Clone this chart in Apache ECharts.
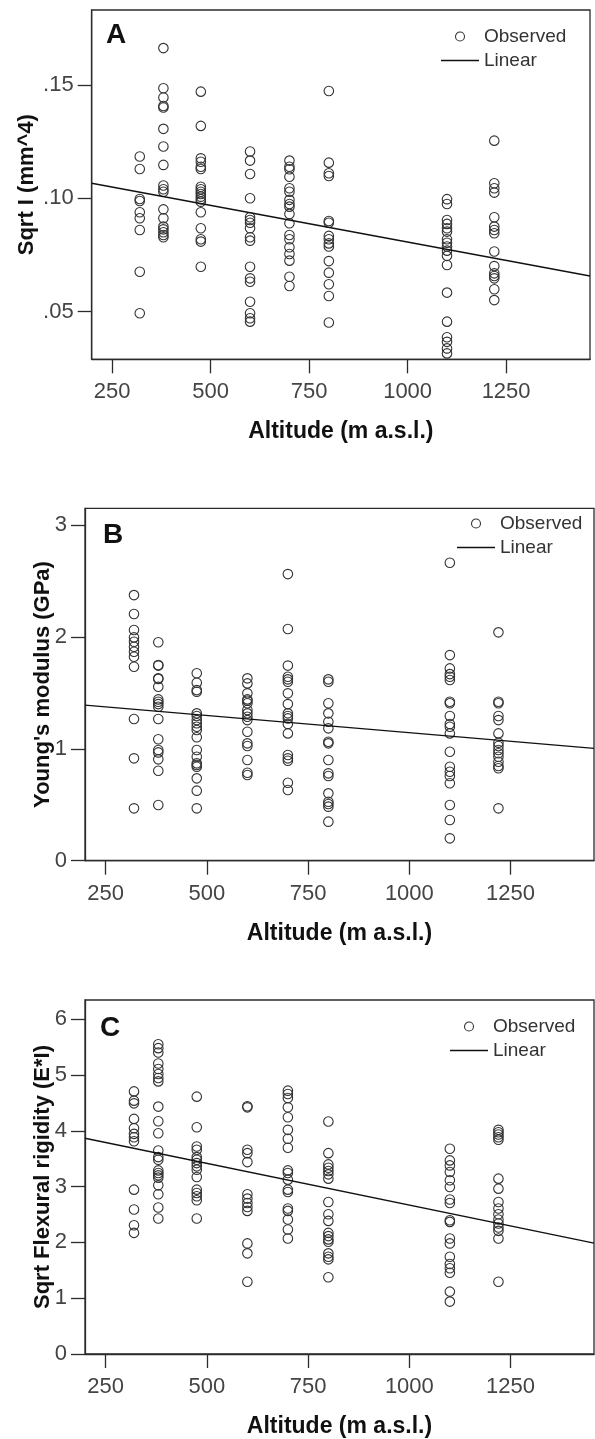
<!DOCTYPE html>
<html>
<head>
<meta charset="utf-8">
<title>Altitude scatter plots</title>
<script src="https://cdn.jsdelivr.net/npm/echarts@6/dist/echarts.min.js"></script>
<style>
  html, body { margin: 0; padding: 0; background: #fff; }
  #chart { width: 595px; height: 1439px; }
</style>
</head>
<body>
<div id="chart"></div>
<script>
// altitude of each sampling site (m a.s.l.)
const altitudes = [320, 380, 475, 600, 700, 800, 1100, 1220]

// panel A: Sqrt I (mm^4), one list per altitude
const sqrtI = [
  [0.1184, 0.1129, 0.0997, 0.0988, 0.0938, 0.0912, 0.0860, 0.0676, 0.0493],
  [0.1662, 0.1485, 0.1444, 0.1407, 0.1400, 0.1306, 0.1228, 0.1147, 0.1056, 0.1040, 0.1029, 0.0951, 0.0912, 0.0875, 0.0863, 0.0850, 0.0838, 0.0828],
  [0.1470, 0.1319, 0.1176, 0.1161, 0.1139, 0.1129, 0.1051, 0.1040, 0.1029, 0.1019, 0.1007, 0.0996, 0.0985, 0.0938, 0.0868, 0.0819, 0.0809, 0.0698],
  [0.1206, 0.1166, 0.1107, 0.1000, 0.0916, 0.0904, 0.0892, 0.0868, 0.0828, 0.0813, 0.0698, 0.0647, 0.0632, 0.0544, 0.0493, 0.0471, 0.0456],
  [0.1166, 0.1139, 0.1128, 0.1095, 0.1044, 0.1029, 0.0993, 0.0975, 0.0963, 0.0931, 0.0890, 0.0838, 0.0819, 0.0784, 0.0754, 0.0725, 0.0654, 0.0613],
  [0.1473, 0.1157, 0.1110, 0.1098, 0.0900, 0.0892, 0.0834, 0.0819, 0.0801, 0.0787, 0.0723, 0.0672, 0.0621, 0.0569, 0.0452],
  [0.0996, 0.0975, 0.0904, 0.0887, 0.0868, 0.0853, 0.0819, 0.0804, 0.0787, 0.0769, 0.0746, 0.0706, 0.0584, 0.0456, 0.0387, 0.0367, 0.0338, 0.0316],
  [0.1254, 0.1066, 0.1044, 0.1025, 0.0916, 0.0875, 0.0860, 0.0846, 0.0765, 0.0701, 0.0669, 0.0657, 0.0647, 0.0599, 0.0551],
]

// panel B: Young's modulus (GPa)
const youngs = [
  [2.374, 2.205, 2.062, 1.996, 1.957, 1.912, 1.868, 1.823, 1.734, 1.266, 0.915, 0.468],
  [1.952, 1.749, 1.744, 1.630, 1.625, 1.555, 1.442, 1.421, 1.400, 1.376, 1.266, 1.085, 0.989, 0.968, 0.906, 0.804, 0.498],
  [1.675, 1.591, 1.525, 1.510, 1.317, 1.293, 1.257, 1.228, 1.198, 1.168, 1.103, 0.989, 0.929, 0.870, 0.855, 0.840, 0.736, 0.626, 0.468],
  [1.630, 1.585, 1.496, 1.442, 1.430, 1.407, 1.347, 1.317, 1.287, 1.257, 1.153, 1.049, 1.025, 0.900, 0.786, 0.766],
  [2.562, 2.071, 1.744, 1.644, 1.621, 1.600, 1.496, 1.400, 1.317, 1.293, 1.272, 1.222, 1.138, 0.945, 0.915, 0.894, 0.697, 0.632],
  [1.621, 1.600, 1.407, 1.317, 1.242, 1.183, 1.063, 1.049, 0.900, 0.781, 0.757, 0.602, 0.527, 0.507, 0.483, 0.349],
  [2.663, 1.838, 1.719, 1.668, 1.644, 1.615, 1.421, 1.407, 1.293, 1.222, 1.198, 1.138, 0.974, 0.840, 0.795, 0.757, 0.692, 0.498, 0.364, 0.200],
  [2.041, 1.421, 1.407, 1.293, 1.257, 1.138, 1.055, 1.025, 0.989, 0.960, 0.929, 0.885, 0.846, 0.826, 0.468],
]

// panel C: Sqrt flexural rigidity (E*I)
const flexural = [
  [4.707, 4.541, 4.493, 4.214, 4.046, 3.946, 3.886, 3.814, 2.946, 2.589, 2.309, 2.171],
  [5.553, 5.482, 5.404, 5.207, 5.107, 5.018, 4.946, 4.886, 4.434, 4.171, 3.957, 3.648, 3.529, 3.482, 3.291, 3.243, 3.202, 3.161, 3.023, 2.863, 2.625, 2.429],
  [4.613, 4.065, 3.720, 3.661, 3.529, 3.482, 3.422, 3.363, 3.304, 3.172, 2.946, 2.886, 2.827, 2.755, 2.429],
  [4.440, 4.421, 3.661, 3.600, 3.440, 2.863, 2.785, 2.707, 2.636, 2.565, 1.982, 1.804, 1.296],
  [4.720, 4.660, 4.589, 4.421, 4.243, 4.018, 3.857, 3.696, 3.291, 3.243, 3.125, 2.946, 2.904, 2.607, 2.565, 2.411, 2.232, 2.071],
  [4.166, 3.600, 3.398, 3.339, 3.279, 3.220, 3.143, 2.725, 2.505, 2.386, 2.171, 2.113, 2.054, 2.011, 1.804, 1.743, 1.696, 1.375],
  [3.679, 3.470, 3.380, 3.261, 3.113, 2.993, 2.768, 2.707, 2.398, 2.368, 2.071, 1.982, 1.744, 1.613, 1.536, 1.457, 1.118, 0.939],
  [4.018, 3.975, 3.934, 3.886, 3.839, 3.143, 2.964, 2.725, 2.607, 2.505, 2.411, 2.339, 2.268, 2.207, 2.071, 1.296],
]

// linear fit end points (x range of each plot, fitted y at both ends)
const fitXA = [198, 1463]
const fitSqrtI = [0.1066, 0.0657]
const fitXB = [199, 1456]
const fitYoungs = [1.391, 1.004]
const fitXC = [199, 1456]
const fitFlexural = [3.866, 1.987]

// tick labels
const xTicks = [250, 500, 750, 1000, 1250]
const sqrtITicks = [0.05, 0.10, 0.15]
const youngsTicks = [0, 1, 2, 3]
const flexuralTicks = [0, 1, 2, 3, 4, 5, 6]

const FONT = '"Liberation Sans", Arial, sans-serif'
const AXIS_COLOR = '#2b2b2b'

function toPoints(cols) {
  const pts = []
  cols.forEach((vals, i) => {
    vals.forEach(v => pts.push([altitudes[i], v]))
  })
  return pts
}

const panels = [
  {
    letter: 'A', yName: 'Sqrt I (mm^4)', values: sqrtI, fitX: fitXA, fitY: fitSqrtI, yTicks: sqrtITicks,
    ymin: 0.029, ymax: 0.183, fmt: v => v.toFixed(2).replace(/^0/, ''),
    grid: { left: 91.7, top: 10, width: 498.3, height: 349.3 },
    yNameGap: 54, legendLeft: 441, legendTop: 27, letterPos: [106, 21],
  },
  {
    letter: 'B', yName: 'Young\'s modulus (GPa)', values: youngs, fitX: fitXB, fitY: fitYoungs, yTicks: youngsTicks,
    ymin: 0, ymax: 3.15, fmt: v => String(v),
    grid: { left: 85, top: 508.3, width: 509, height: 352.4 },
    yNameGap: 31, legendLeft: 457, legendTop: 514, letterPos: [103, 521],
  },
  {
    letter: 'C', yName: 'Sqrt Flexural rigidity (E*I)', values: flexural, fitX: fitXC, fitY: fitFlexural, yTicks: flexuralTicks,
    ymin: 0, ymax: 6.345, fmt: v => String(v),
    grid: { left: 85, top: 1000, width: 509, height: 354 },
    yNameGap: 31, legendLeft: 450, legendTop: 1017, letterPos: [100, 1014],
  },
]

function initChart() {
  const myChart = echarts.init(document.getElementById('chart'), null, { renderer: 'canvas' })

  const grid = []
  const xAxis = []
  const yAxis = []
  const series = []
  const legend = []
  const title = []

  panels.forEach((p, i) => {
    grid.push({
      ...p.grid,
      show: true,
      borderColor: AXIS_COLOR,
      borderWidth: 1.3,
      backgroundColor: '#fff',
      outerBoundsMode: 'none',
    })
    xAxis.push({
      gridIndex: i,
      type: 'value',
      min: p.fitX[0],
      max: p.fitX[1],
      name: 'Altitude (m a.s.l.)',
      nameLocation: 'middle',
      nameGap: 61,
      nameMoveOverlap: false,
      nameTextStyle: { fontSize: 23, fontWeight: 'bold', color: '#111', fontFamily: FONT },
      axisLine: { show: true, onZero: false, lineStyle: { color: AXIS_COLOR, width: 1.3 } },
      axisTick: { show: true, length: 14, customValues: xTicks, lineStyle: { color: AXIS_COLOR, width: 1.3 } },
      axisLabel: { customValues: xTicks, margin: 22, fontSize: 22, color: '#444', fontFamily: FONT, formatter: v => String(v) },
      splitLine: { show: false },
    })
    yAxis.push({
      gridIndex: i,
      type: 'value',
      min: p.ymin,
      max: p.ymax,
      name: p.yName,
      nameLocation: 'middle',
      nameRotate: 90,
      nameGap: p.yNameGap,
      nameMoveOverlap: false,
      nameTextStyle: { fontSize: 22, fontWeight: 'bold', color: '#111', fontFamily: FONT },
      axisLine: { show: true, onZero: false, lineStyle: { color: AXIS_COLOR, width: 1.3 } },
      axisTick: { show: true, length: 14, customValues: p.yTicks, lineStyle: { color: AXIS_COLOR, width: 1.3 } },
      axisLabel: { customValues: p.yTicks, margin: 18, fontSize: 22, color: '#444', fontFamily: FONT, formatter: p.fmt },
      splitLine: { show: false },
    })
    series.push({
      name: 'Observed',
      type: 'scatter',
      xAxisIndex: i,
      yAxisIndex: i,
      symbol: 'circle',
      symbolSize: 9.5,
      itemStyle: { color: 'rgba(255,255,255,0)', borderColor: '#333', borderWidth: 1.1, opacity: 1 },
      data: toPoints(p.values),
    })
    series.push({
      name: 'Linear',
      type: 'line',
      xAxisIndex: i,
      yAxisIndex: i,
      symbol: 'none',
      silent: true,
      itemStyle: { color: '#111' },
      lineStyle: { color: '#111', width: 1.4 },
      data: [[p.fitX[0], p.fitY[0]], [p.fitX[1], p.fitY[1]]],
    })
    legend.push({
      data: [
        { name: 'Observed' },
        { name: 'Linear', icon: 'path://M0,0L38,0L38,1.4L0,1.4Z', itemStyle: { color: '#111', borderWidth: 0 } },
      ],
      orient: 'vertical',
      left: p.legendLeft,
      top: p.legendTop,
      padding: 0,
      itemWidth: 38,
      itemHeight: 9,
      itemGap: 5,
      selectedMode: false,
      itemStyle: { borderWidth: 1.1, borderColor: '#333' },
      textStyle: { fontSize: 19, lineHeight: 19, color: '#333', fontFamily: FONT },
    })
    title.push({
      text: p.letter,
      left: p.letterPos[0],
      top: p.letterPos[1],
      padding: 0,
      textStyle: { fontSize: 28, fontWeight: 'bold', color: '#111', fontFamily: FONT },
    })
  })

  myChart.setOption({
    animation: false,
    backgroundColor: '#fff',
    title,
    legend,
    grid,
    xAxis,
    yAxis,
    series,
  })
}

initChart()
</script>
</body>
</html>
